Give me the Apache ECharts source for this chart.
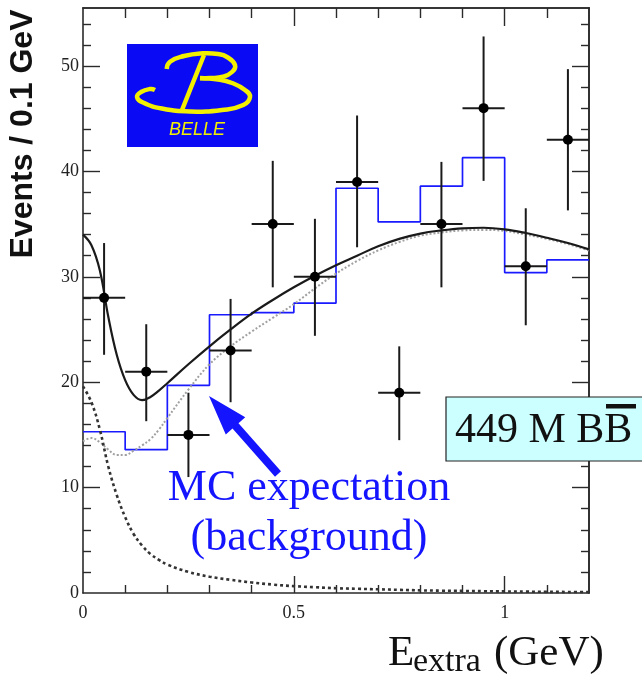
<!DOCTYPE html>
<html><head><meta charset="utf-8">
<script src="https://cdn.jsdelivr.net/npm/echarts@6/dist/echarts.min.js"></script>
<style>html,body{margin:0;padding:0;background:#fff}#c{width:642px;height:680px}</style>
</head><body><div id="c"></div>
<script>
// ---- data points (Belle E_extra distribution) ----
const binWidth = 0.1;
const binCenters = [0.05,0.15,0.25,0.35,0.45,0.55,0.65,0.75,0.85,0.95,1.05,1.15];
const counts     = [28,  21,  15,  23,  35,  30,  39,  19,  35,  46,  31,  43];
const errLow     = [22.6,16.3,11.0,18.1,29.0,24.4,32.8,14.5,29.0,39.1,25.4,36.3];
const errHigh    = [33.2,25.5,19.0,27.9,41.0,35.5,45.3,23.4,40.9,52.8,36.5,49.7];

// ---- MC expectation histogram (bin lower edges) ----
const mcEdges  = [0,0.1,0.2,0.3,0.4,0.5,0.6,0.7,0.8,0.9,1.0,1.1];
const mcCounts = [15.3,13.6,19.7,26.4,26.6,27.5,38.4,35.2,38.6,41.3,30.4,31.6];

// ---- fit curves ----
const curveX     = [0,0.02,0.04,0.06,0.08,0.10,0.12,0.14,0.16,0.18,0.20,0.25,0.30,0.35,0.40,0.45,0.50,0.55,0.60,0.65,0.70,0.75,0.80,0.85,0.90,0.95,1.00,1.05,1.10,1.15,1.20];
const totalFit   = [34.0,33.0,30.6,26.2,22.6,20.2,18.8,18.3,18.6,19.2,19.9,21.7,23.4,25.0,26.5,27.8,29.0,30.1,31.1,32.0,32.9,33.6,34.1,34.4,34.6,34.65,34.5,34.15,33.7,33.2,32.6];
const bkgFit     = [14.4,14.7,14.3,13.6,13.1,13.1,13.5,14.0,14.6,15.5,16.6,19.3,21.7,23.4,24.8,26.1,27.4,28.9,30.3,31.5,32.5,33.3,33.9,34.2,34.4,34.45,34.35,34.0,33.6,33.1,32.5];
const signalFit  = [19.6,18.1,15.5,12.0,9.3,7.2,5.6,4.5,3.7,3.15,2.7,2.0,1.55,1.25,1.0,0.8,0.65,0.55,0.45,0.4,0.35,0.3,0.25,0.22,0.2,0.17,0.15,0.13,0.11,0.1,0.09];

// ---- axis ticks ----
const xLabelTicks = [0, 0.5, 1];
const xMajorTicks = [0.5, 1];
const xMinorTicks = [0.1,0.2,0.3,0.4,0.6,0.7,0.8,0.9,1.1];
const yLabelTicks = [0,10,20,30,40,50];
const yMajorTicks = [10,20,30,40,50];
const yMinorTicks = [2,4,6,8,12,14,16,18,22,24,26,28,32,34,36,38,42,44,46,48,52,54];
const xMin = 0, xMax = 1.2, yMin = 0, yMax = 55.5;

const AX = '#2a2a2a';
const SERIF = "'Liberation Serif','DejaVu Serif',serif";

function xAx(pos, ticks, len, labels) {
  return {
    type: 'value', position: pos, min: xMin, max: xMax,
    axisLine: { show: !!labels || pos === 'top', onZero: false, lineStyle: { color: AX, width: 1.6 } },
    axisTick: { show: true, inside: true, length: len, customValues: ticks, lineStyle: { color: AX, width: 1.4 } },
    axisLabel: labels ? { show: true, customValues: xLabelTicks, fontFamily: SERIF, fontSize: 18, color: '#222', margin: 11 } : { show: false },
    splitLine: { show: false }
  };
}
function yAx(pos, ticks, len, labels) {
  return {
    type: 'value', position: pos, min: yMin, max: yMax,
    axisLine: { show: !!labels || pos === 'right', onZero: false, lineStyle: { color: AX, width: 1.6 } },
    axisTick: { show: true, inside: true, length: len, customValues: ticks, lineStyle: { color: AX, width: 1.4 } },
    axisLabel: labels ? { show: true, customValues: yLabelTicks, fontFamily: SERIF, fontSize: 18, color: '#222', margin: 4 } : { show: false },
    splitLine: { show: false }
  };
}

const pointData = binCenters.map((c, i) => [c, counts[i], errLow[i], errHigh[i]]);
const histData = mcEdges.map((e, i) => [e, mcCounts[i]]).concat([[xMax, mcCounts[mcCounts.length - 1]]]);
const pair = arr => curveX.map((x, i) => [x, arr[i]]);

// arrow geometry (annotation, pixels)
const tip = [209, 396], tail = [278, 474];
const dx = tip[0] - tail[0], dy = tip[1] - tail[1], L = Math.hypot(dx, dy);
const u = [dx / L, dy / L], nrm = [-u[1], u[0]];
const headLen = 40, headHalf = 13, shaftHalf = 4;
const B = [tip[0] - u[0] * headLen, tip[1] - u[1] * headLen];
const P = (p, k) => [p[0] + nrm[0] * k, p[1] + nrm[1] * k];
const arrowPts = [tip, P(B, headHalf), P(B, shaftHalf), P(tail, shaftHalf), P(tail, -shaftHalf), P(B, -shaftHalf), P(B, -headHalf)];

const YEL = '#f2f000';
const curveCommon = { smooth: 0.4, symbol: 'none' };
const chart = echarts.init(document.getElementById('c'), null, { renderer: 'canvas' });
chart.setOption({
  animation: false,
  backgroundColor: '#fff',
  grid: { left: 83, right: 53, top: 8, bottom: 87 },
  xAxis: [
    xAx('bottom', xMinorTicks, 8, true),
    xAx('bottom', xMajorTicks, 17, false),
    xAx('top', xMinorTicks, 10, false),
    xAx('top', xMajorTicks, 18, false)
  ],
  yAxis: [
    yAx('left', yMinorTicks, 8, true),
    yAx('left', yMajorTicks, 17, false),
    yAx('right', yMinorTicks, 8, false),
    yAx('right', yMajorTicks, 17, false)
  ],
  series: [
    { type: 'line', name: 'MC', data: histData, step: 'end', symbol: 'none',
      lineStyle: { color: '#1a1aff', width: 1.7 }, z: 2 },
    Object.assign({ type: 'line', name: 'bkg', data: pair(bkgFit),
      lineStyle: { color: '#a0a0a0', width: 2, type: [2, 2] }, z: 3 }, curveCommon),
    Object.assign({ type: 'line', name: 'signal', data: pair(signalFit),
      lineStyle: { color: '#333', width: 2.6, type: [3, 3] }, z: 3 }, curveCommon),
    Object.assign({ type: 'line', name: 'total', data: pair(totalFit),
      lineStyle: { color: '#1a1a1a', width: 2.2 }, z: 4 }, curveCommon),
    { type: 'custom', name: 'data', data: pointData, z: 5,
      encode: { x: 0, y: 1 },
      renderItem: function (params, api) {
        const x = api.value(0), y = api.value(1), lo = api.value(2), hi = api.value(3);
        const c = api.coord([x, y]);
        const l = api.coord([x - binWidth / 2, y]), r = api.coord([x + binWidth / 2, y]);
        const t = api.coord([x, hi]), b = api.coord([x, lo]);
        const st = { stroke: '#1a1a1a', lineWidth: 2 };
        return { type: 'group', children: [
          { type: 'line', shape: { x1: l[0], y1: l[1], x2: r[0], y2: r[1] }, style: st },
          { type: 'line', shape: { x1: t[0], y1: t[1], x2: b[0], y2: b[1] }, style: st },
          { type: 'circle', shape: { cx: c[0], cy: c[1], r: 5 }, style: { fill: '#000' } }
        ] };
      } }
  ],
  graphic: [
    // Y axis title
    { type: 'text', x: 23, y: 134, rotation: Math.PI / 2, z: 100,
      style: { text: 'Events / 0.1 GeV', font: "bold 32px 'Liberation Sans', Arial, sans-serif", fill: '#111', align: 'center', verticalAlign: 'middle' } },
    // X axis title
    { type: 'text', x: 388, y: 653.5, z: 100,
      style: { text: 'E', font: "43px " + SERIF, fill: '#111', align: 'left', verticalAlign: 'middle' } },
    { type: 'text', x: 413, y: 662.5, z: 100,
      style: { text: 'extra', font: "34px " + SERIF, fill: '#111', align: 'left', verticalAlign: 'middle' } },
    { type: 'text', x: 494, y: 653.5, z: 100,
      style: { text: '(GeV)', font: "43px " + SERIF, fill: '#111', align: 'left', verticalAlign: 'middle' } },
    // MC annotation
    { type: 'text', x: 309, y: 488, z: 100,
      style: { text: 'MC expectation', font: "44px " + SERIF, fill: '#1414ff', align: 'center', verticalAlign: 'middle' } },
    { type: 'text', x: 309, y: 538, z: 100,
      style: { text: '(background)', font: "44px " + SERIF, fill: '#1414ff', align: 'center', verticalAlign: 'middle' } },
    { type: 'polygon', z: 100, shape: { points: arrowPts }, style: { fill: '#1414ff' } },
    // luminosity box
    { type: 'rect', z: 100, shape: { x: 446, y: 397, width: 210, height: 64 },
      style: { fill: '#ccffff', stroke: '#222', lineWidth: 1.2 } },
    { type: 'text', x: 455, y: 431, z: 101,
      style: { text: '449 M BB', font: "42px " + SERIF, fill: '#111', align: 'left', verticalAlign: 'middle' } },
    { type: 'rect', z: 101, shape: { x: 606, y: 404, width: 30, height: 4.5 }, style: { fill: '#111' } },
    // Belle logo
    { type: 'rect', z: 100, shape: { x: 127, y: 44, width: 131, height: 103 }, style: { fill: '#0a0af5' } },
    { type: 'polyline', z: 101, shape: { smooth: 0.5, points: [[166.7,69],[170,61.7],[184,56],[203,53.3],[218,54],[227,57],[235,65],[232,72],[223,76.7],[210,78],[200,78]] },
      style: { stroke: YEL, lineWidth: 4.5, fill: null } },
    { type: 'polyline', z: 101, shape: { smooth: 0.5, points: [[200,78.3],[218,79.5],[232,83],[245,90],[250,97],[243.3,105],[222,110],[190,111.5],[162,108.5],[143,102.5],[137,97],[141,92],[150,89],[155,90]] },
      style: { stroke: YEL, lineWidth: 4.5, fill: null } },
    { type: 'line', z: 101, shape: { x1: 204, y1: 55, x2: 182, y2: 110 }, style: { stroke: YEL, lineWidth: 4.5 } },
    { type: 'text', x: 197, y: 130, z: 101,
      style: { text: 'BELLE', font: "italic 18px 'Liberation Sans', Arial, sans-serif", fill: YEL, align: 'center', verticalAlign: 'middle' } }
  ]
});
</script>
</body></html>
